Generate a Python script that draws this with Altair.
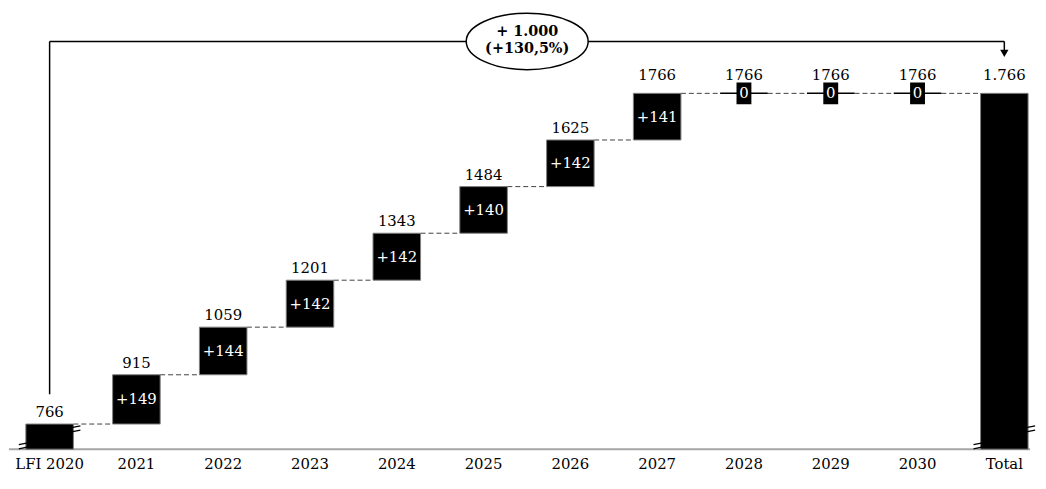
import altair as alt
import pandas as pd

# ---- data ----
categories = ["LFI 2020", "2021", "2022", "2023", "2024", "2025", "2026",
              "2027", "2028", "2029", "2030", "Total"]
totals = [766, 915, 1059, 1201, 1343, 1484, 1625, 1766, 1766, 1766, 1766, 1766]
change_labels = ["", "+149", "+144", "+142", "+142", "+140", "+142", "+141",
                 "0", "0", "0", ""]
total_labels = ["766", "915", "1059", "1201", "1343", "1484", "1625", "1766",
                "1766", "1766", "1766", "1.766"]
kinds = ["base", "up", "up", "up", "up", "up", "up", "up",
         "zero", "zero", "zero", "total"]
annot_line1 = "+ 1.000"
annot_line2 = "(+130,5%)"

# ---- geometry constants (broken axis) ----
AXIS_FLOOR = 690
Y_TOP = 2012
BRACKET = 1923
FONT = "DejaVu Serif"
W, H = 1030, 441
HALF = 24  # half bar width in px

starts = []
for i, k in enumerate(kinds):
    if k in ("base", "total"):
        starts.append(AXIS_FLOOR)
    else:
        starts.append(totals[i - 1])

df = pd.DataFrame({
    "cat": categories,
    "start": starts,
    "end": totals,
    "chg": change_labels,
    "lbl": total_labels,
    "kind": kinds,
})
df["mid"] = (df["start"] + df["end"]) / 2

conn = pd.DataFrame({
    "cat": categories[:-1],
    "next": categories[1:],
    "level": totals[:-1],
})

xscale = alt.Scale(domain=categories, paddingInner=0.4523,
                   paddingOuter=0.1085, align=0.895, round=False)
yscale = alt.Scale(domain=[AXIS_FLOOR, Y_TOP], zero=False, nice=False)
xaxis = alt.Axis(title=None, labelAngle=0, labelAlign="center",
                 labelBaseline="top", domain=False, ticks=False,
                 labelFont=FONT, labelFontSize=15, labelColor="black",
                 labelPadding=7)


def X(field):
    return alt.X(field, scale=xscale, sort=categories, axis=xaxis)


def Y(field):
    return alt.Y(field, scale=yscale, axis=None)


base = alt.Chart(df)

axis_line = alt.Chart(pd.DataFrame({"v": [AXIS_FLOOR]})).mark_rule(
    color="#a6a6a6", strokeWidth=2).encode(
    x=alt.value(0), x2=alt.value(W), y=Y("v:Q"))

connectors = alt.Chart(conn).mark_rule(
    color="#404040", strokeWidth=1, strokeDash=[5, 3],
    xOffset=HALF, x2Offset=-HALF).encode(
    x=X("cat:N"), x2="next:N", y=Y("level:Q"))

bars = base.transform_filter("datum.kind != 'zero'").mark_bar(
    color="black", stroke="#7f7f7f", strokeWidth=1).encode(
    x=X("cat:N"), y=Y("start:Q"), y2="end:Q")

zero_lines = base.transform_filter("datum.kind == 'zero'").mark_rule(
    color="black", strokeWidth=1.5, xOffset=-HALF, x2Offset=HALF).encode(
    x=X("cat:N"), x2="cat:N", y=Y("end:Q"))

zero_boxes = base.transform_filter("datum.kind == 'zero'").mark_point(
    shape="M-0.65,-1 L0.65,-1 L0.65,1 L-0.65,1 Z",
    size=400, filled=True, fill="black", stroke="black", opacity=1).encode(
    x=X("cat:N"), y=Y("end:Q"))

chg_text = base.transform_filter("datum.chg != ''").mark_text(
    font=FONT, fontSize=15, color="white", baseline="middle").encode(
    x=X("cat:N"), y=Y("mid:Q"), text="chg:N")

lbl_low = base.transform_filter("datum.end < 1766").mark_text(
    font=FONT, fontSize=15, color="black", baseline="alphabetic", dy=-7).encode(
    x=X("cat:N"), y=Y("end:Q"), text="lbl:N")

lbl_high = base.transform_filter("datum.end >= 1766").mark_text(
    font=FONT, fontSize=15, color="black", baseline="alphabetic", dy=-13).encode(
    x=X("cat:N"), y=Y("end:Q"), text="lbl:N")

# bracket annotation
br = pd.DataFrame({"a": ["LFI 2020"], "b": ["Total"], "y": [BRACKET],
                   "yl": [856], "yr": [1882], "ya": [1887]})
brc = alt.Chart(br)
br_h = brc.mark_rule(color="black", strokeWidth=1.5).encode(
    x=X("a:N"), x2="b:N", y=Y("y:Q"))
br_l = brc.mark_rule(color="black", strokeWidth=1.5).encode(
    x=X("a:N"), y=Y("yl:Q"), y2="y:Q")
br_r = brc.mark_rule(color="black", strokeWidth=1.5).encode(
    x=X("b:N"), y=Y("yr:Q"), y2="y:Q")
arrow = brc.mark_point(shape="triangle-down", size=70, filled=True,
                       color="black", opacity=1).encode(
    x=X("b:N"), y=Y("ya:Q"))

ann = pd.DataFrame({"cat": ["2025"], "y": [BRACKET],
                    "t1": [annot_line1], "t2": [annot_line2]})
annc = alt.Chart(ann)
ellipse = annc.mark_point(
    shape="M-1,0 A1,0.463 0 1,1 1,0 A1,0.463 0 1,1 -1,0 Z",
    size=123 * 123, filled=True, fill="white", stroke="black",
    strokeWidth=1.5, opacity=1, xOffset=44).encode(
    x=X("cat:N"), y=Y("y:Q"))
ann1 = annc.mark_text(font=FONT, fontSize=14.5, fontWeight="bold",
                      color="black", baseline="middle", dx=44, dy=-9).encode(
    x=X("cat:N"), y=Y("y:Q"), text="t1:N")
ann2 = annc.mark_text(font=FONT, fontSize=14.5, fontWeight="bold",
                      color="black", baseline="middle", dx=44, dy=8).encode(
    x=X("cat:N"), y=Y("y:Q"), text="t2:N")

# axis-break marks on the first and last bars
brk = pd.DataFrame({"cat": ["LFI 2020", "Total"], "ylo": [705, 705],
                    "yhi": [753, 753]})
brkc = alt.Chart(brk)
brk_path = "M-1,0.05 L1,-0.35 M-1,0.65 L1,0.25"
brk_lo = brkc.mark_point(shape=brk_path, size=200, filled=False,
                         color="black", strokeWidth=1.3, opacity=1,
                         xOffset=-HALF).encode(
    x=X("cat:N"), y=Y("ylo:Q"))
brk_hi = brkc.mark_point(shape=brk_path, size=200, filled=False,
                         color="black", strokeWidth=1.3, opacity=1,
                         xOffset=HALF).encode(
    x=X("cat:N"), y=Y("yhi:Q"))

chart = alt.layer(
    axis_line, connectors, bars, zero_lines, zero_boxes, chg_text,
    lbl_low, lbl_high, br_h, br_l, br_r, arrow, ellipse, ann1, ann2,
    brk_lo, brk_hi
).properties(width=W, height=H, padding=0, background="white"
).configure_view(stroke=None)

chart.save("out.html", embed_options={"renderer": "svg", "actions": False})
